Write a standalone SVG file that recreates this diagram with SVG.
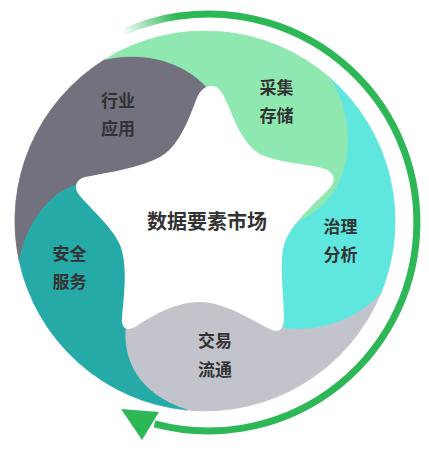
<svg xmlns="http://www.w3.org/2000/svg" width="429" height="453" viewBox="0 0 429 453">
<defs>
<style>
.seg{stroke-width:0.8;stroke-linejoin:round}
.lbl{font-family:"Noto Sans CJK SC","Noto Sans",sans-serif;font-weight:bold;font-size:17px;fill:#333;text-anchor:middle}
.ctr{font-size:20px}
.ring{fill:none;stroke-width:7}
</style>
<linearGradient id="fade" gradientUnits="userSpaceOnUse" x1="122" y1="33" x2="176" y2="16">
<stop offset="0" stop-color="#2db757" stop-opacity="0"/>
<stop offset="1" stop-color="#2db757" stop-opacity="1"/>
</linearGradient>
</defs>
<rect width="429" height="453" fill="#fff"/>
<g id="connectors">
<path class="ring" stroke="url(#fade)" d="M122.7,32.5 A208.5,208.5 0 0 1 180.5,15.8"/>
<path class="ring" stroke="#2db757" d="M179.5,16 A208.5,208.5 0 1 1 154.5,423.9"/>
<polygon points="121,409 159,412 142,440" fill="#2db757"/>
</g>
<g id="node-gray">
<path class="seg" fill="#72717d" stroke="#72717d" d="M205,221 L82,184 C55,188 30,215 19,260 A190,190 0 0 1 105,59.4 C145,50 190,62 213,95 Z"/>
</g>
<g id="node-green">
<path class="seg" fill="#8ee8b0" stroke="#8ee8b0" d="M205,221 L213,95 C190,62 145,50 105,59.4 A190,190 0 0 1 330,78 C352,110 356,160 332,195 C320,210 306,218 290,227 Z"/>
</g>
<g id="node-cyan">
<path class="seg" fill="#5fe6de" stroke="#5fe6de" d="M205,221 L290,227 C306,218 320,210 332,195 C356,160 352,110 330,78 A190,190 0 0 1 380.5,294 C360,318 318,336 276,327 Z"/>
</g>
<g id="node-lightgray">
<path class="seg" fill="#c3c3cb" stroke="#c3c3cb" d="M205,221 L276,327 C318,336 360,318 380.5,294 A190,190 0 0 1 187,410 C140,395 120,360 126,322 Z"/>
</g>
<g id="node-teal">
<path class="seg" fill="#26aaa8" stroke="#26aaa8" d="M205,221 L126,322 C120,360 140,395 187,410 A190,190 0 0 1 19,260 C30,215 55,188 82,184 Z"/>
</g>
<g id="node-center">
<path fill="#fff" d="M212,86 C220,86 224,96 228,105 C236,124 244,146 262,155 C280,163 310,164 325,169 C336,173 336,183 328,190 C312,206 290,225 284,245 C279,265 284,295 284,318 C284,328 280,333 272,330 C250,320 228,303 200,302 C172,302 150,318 135,327 C126,332 121,327 122,318 C124,295 128,265 120,245 C113,228 92,210 80,196 C73,188 75,180 85,177 C110,172 140,168 160,157 C178,147 188,122 196,100 C200,90 205,86 212,86 Z"/>
<text class="lbl ctr" x="207" y="229">数据要素市场</text>
</g>
<g id="labels">
<text class="lbl" x="118" y="107">行业</text>
<text class="lbl" x="118" y="135">应用</text>
<text class="lbl" x="276.5" y="94">采集</text>
<text class="lbl" x="276.5" y="122">存储</text>
<text class="lbl" x="340.5" y="233">治理</text>
<text class="lbl" x="340.5" y="261">分析</text>
<text class="lbl" x="69.5" y="260">安全</text>
<text class="lbl" x="69.5" y="288">服务</text>
<text class="lbl" x="215" y="347">交易</text>
<text class="lbl" x="215" y="376">流通</text>
</g>
</svg>
